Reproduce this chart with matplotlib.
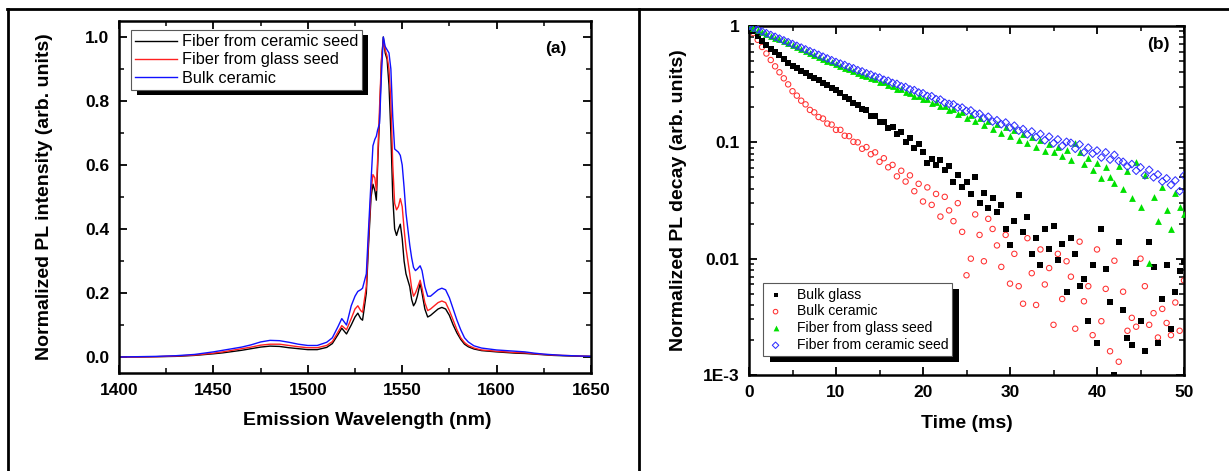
import numpy as np
import matplotlib
matplotlib.use("Agg")
import matplotlib.pyplot as plt
from matplotlib.lines import Line2D
from matplotlib.patches import Rectangle
from matplotlib.ticker import MultipleLocator, FixedLocator, FuncFormatter, LogLocator, NullFormatter

plt.rcParams['font.family'] = ['Liberation Sans', 'DejaVu Sans']

# ---------------- Panel (a) data: PL spectra ----------------
wavelength_nm = [1400, 1410, 1420, 1430, 1440, 1450, 1455, 1460, 1465, 1470,
                 1475, 1480, 1485, 1490, 1495, 1500, 1505, 1510, 1513, 1516,
                 1518, 1520.5, 1523, 1525, 1526.5, 1528, 1529, 1531, 1532, 1533.5,
                 1534.5, 1535.5, 1536.3, 1537, 1538, 1539, 1540, 1541, 1542, 1543,
                 1544, 1545, 1546, 1547, 1548, 1549, 1550, 1551, 1552, 1553,
                 1554, 1555, 1556, 1557, 1558, 1559.5, 1560.5, 1562, 1563.5, 1565,
                 1567, 1569, 1571, 1573, 1575, 1577, 1579, 1581, 1583, 1585,
                 1588, 1592, 1596, 1600, 1605, 1610, 1615, 1620, 1625, 1630,
                 1635, 1640, 1645, 1650]

fiber_ceramic_seed = [0.0, 0.0, 0.001, 0.002, 0.005, 0.010, 0.013, 0.017, 0.021, 0.026,
                      0.031, 0.034, 0.033, 0.029, 0.026, 0.023, 0.023, 0.030, 0.042, 0.070,
                      0.090, 0.072, 0.100, 0.125, 0.137, 0.120, 0.115, 0.200, 0.330, 0.500,
                      0.540, 0.520, 0.490, 0.600, 0.750, 0.920, 1.000, 0.950, 0.930, 0.850,
                      0.700, 0.500, 0.400, 0.380, 0.400, 0.415, 0.370, 0.300, 0.260, 0.240,
                      0.220, 0.180, 0.160, 0.170, 0.190, 0.230, 0.200, 0.150, 0.125, 0.130,
                      0.140, 0.150, 0.155, 0.150, 0.130, 0.100, 0.075, 0.055, 0.040, 0.032,
                      0.025, 0.020, 0.018, 0.016, 0.014, 0.012, 0.011, 0.009, 0.007, 0.005,
                      0.004, 0.003, 0.002, 0.002]

fiber_glass_seed = [0.0, 0.0, 0.001, 0.003, 0.006, 0.012, 0.016, 0.021, 0.026, 0.031,
                    0.037, 0.040, 0.040, 0.036, 0.032, 0.029, 0.029, 0.036, 0.048, 0.078,
                    0.098, 0.085, 0.120, 0.150, 0.160, 0.145, 0.140, 0.220, 0.350, 0.520,
                    0.570, 0.560, 0.520, 0.620, 0.780, 0.930, 0.990, 0.960, 0.940, 0.900,
                    0.800, 0.600, 0.480, 0.460, 0.470, 0.495, 0.470, 0.400, 0.340, 0.300,
                    0.260, 0.215, 0.190, 0.200, 0.215, 0.240, 0.215, 0.170, 0.145, 0.150,
                    0.160, 0.170, 0.175, 0.170, 0.145, 0.115, 0.085, 0.060, 0.045, 0.036,
                    0.028, 0.022, 0.020, 0.018, 0.016, 0.014, 0.013, 0.010, 0.008, 0.006,
                    0.005, 0.004, 0.003, 0.002]

bulk_ceramic_spec = [0.0, 0.001, 0.002, 0.004, 0.008, 0.016, 0.021, 0.026, 0.031, 0.038,
                     0.047, 0.052, 0.051, 0.046, 0.040, 0.036, 0.036, 0.046, 0.060, 0.095,
                     0.120, 0.100, 0.160, 0.190, 0.205, 0.210, 0.215, 0.260, 0.380, 0.550,
                     0.660, 0.680, 0.690, 0.710, 0.730, 0.880, 1.000, 0.970, 0.960, 0.950,
                     0.900, 0.750, 0.650, 0.645, 0.640, 0.630, 0.600, 0.530, 0.450, 0.400,
                     0.350, 0.310, 0.280, 0.270, 0.275, 0.285, 0.270, 0.220, 0.190, 0.190,
                     0.200, 0.210, 0.215, 0.210, 0.185, 0.150, 0.115, 0.085, 0.060, 0.047,
                     0.035, 0.028, 0.025, 0.022, 0.020, 0.018, 0.016, 0.012, 0.009, 0.007,
                     0.005, 0.004, 0.003, 0.002]

# ---------------- Panel (b) data: PL decay ----------------
time_ms = np.linspace(0, 50, 101)   # sampling grid, 0.5 ms

bulk_glass = [1.0, 0.90, 0.82, 0.75, 0.69, 0.64, 0.60, 0.56, 0.52, 0.485,
              0.455, 0.434, 0.413, 0.394, 0.375, 0.358, 0.341, 0.325, 0.310, 0.295,
              0.281, 0.268, 0.247, 0.238, 0.218, 0.211, 0.193, 0.189, 0.170, 0.168,
              0.150, 0.151, 0.132, 0.136, 0.118, 0.122, 0.101, 0.110, 0.089, 0.096,
              0.082, 0.067, 0.072, 0.064, 0.070, 0.058, 0.062, 0.046, 0.052, 0.041,
              0.046, 0.036, 0.050, 0.030, 0.037, 0.027, 0.033, 0.025, 0.029, 0.018,
              0.013, 0.021, 0.035, 0.017, 0.023, 0.011, 0.015, 0.0088, 0.018, 0.012,
              0.019, 0.0098, 0.0135, 0.0052, 0.015, 0.011, 0.0058, 0.0067, 0.0029, 0.0089,
              0.0019, 0.018, 0.0082, 0.0042, 0.0010, 0.014, 0.0036, 0.0021, 0.0018, 0.0092,
              0.0029, 0.0016, 0.014, 0.0085, 0.0019, 0.0045, 0.0088, 0.0025, 0.0052, 0.0078,
              0.0093]

bulk_ceramic = [1.0, 0.87, 0.76, 0.66, 0.58, 0.51, 0.45, 0.40, 0.355, 0.315,
                0.275, 0.252, 0.228, 0.212, 0.190, 0.181, 0.165, 0.160, 0.145, 0.142,
                0.128, 0.128, 0.114, 0.113, 0.101, 0.100, 0.088, 0.091, 0.079, 0.082,
                0.068, 0.073, 0.061, 0.064, 0.051, 0.057, 0.046, 0.052, 0.038, 0.044,
                0.031, 0.041, 0.029, 0.036, 0.023, 0.034, 0.026, 0.021, 0.030, 0.017,
                0.0072, 0.010, 0.024, 0.016, 0.0095, 0.022, 0.018, 0.013, 0.0085, 0.016,
                0.0061, 0.011, 0.0058, 0.0041, 0.015, 0.0075, 0.0040, 0.012, 0.0060, 0.0083,
                0.0027, 0.011, 0.0045, 0.0095, 0.0070, 0.0025, 0.014, 0.0043, 0.0058, 0.0022,
                0.012, 0.0029, 0.0055, 0.0016, 0.0096, 0.0013, 0.0052, 0.0024, 0.0031, 0.0026,
                0.010, 0.0058, 0.0027, 0.0034, 0.0021, 0.0037, 0.0028, 0.0022, 0.0042, 0.0024,
                0.0065]

fiber_glass_decay = [1.0, 0.963, 0.927, 0.893, 0.859, 0.827, 0.796, 0.767, 0.738, 0.711,
                     0.684, 0.659, 0.634, 0.611, 0.588, 0.566, 0.545, 0.525, 0.505, 0.486,
                     0.468, 0.455, 0.436, 0.425, 0.407, 0.398, 0.380, 0.374, 0.355, 0.350,
                     0.331, 0.327, 0.310, 0.306, 0.289, 0.287, 0.270, 0.268, 0.250, 0.252,
                     0.236, 0.235, 0.218, 0.221, 0.204, 0.207, 0.189, 0.195, 0.176, 0.183,
                     0.163, 0.172, 0.152, 0.163, 0.142, 0.154, 0.131, 0.144, 0.121, 0.135,
                     0.113, 0.127, 0.104, 0.118, 0.099, 0.112, 0.092, 0.104, 0.085, 0.097,
                     0.083, 0.091, 0.077, 0.086, 0.071, 0.099, 0.082, 0.065, 0.073, 0.058,
                     0.066, 0.049, 0.061, 0.050, 0.045, 0.063, 0.040, 0.057, 0.033, 0.068,
                     0.028, 0.052, 0.0092, 0.034, 0.021, 0.041, 0.026, 0.018, 0.037, 0.028,
                     0.024]

fiber_ceramic_decay = [1.0, 0.965, 0.931, 0.898, 0.867, 0.837, 0.807, 0.779, 0.752, 0.725,
                       0.700, 0.675, 0.652, 0.629, 0.607, 0.586, 0.565, 0.545, 0.526, 0.508,
                       0.490, 0.475, 0.462, 0.444, 0.433, 0.417, 0.407, 0.392, 0.382, 0.368,
                       0.360, 0.345, 0.338, 0.324, 0.318, 0.303, 0.299, 0.285, 0.281, 0.268,
                       0.264, 0.250, 0.249, 0.235, 0.233, 0.219, 0.214, 0.212, 0.199, 0.199,
                       0.186, 0.188, 0.175, 0.176, 0.161, 0.166, 0.151, 0.155, 0.143, 0.148,
                       0.134, 0.139, 0.126, 0.130, 0.117, 0.124, 0.111, 0.118, 0.104, 0.112,
                       0.098, 0.106, 0.093, 0.101, 0.099, 0.088, 0.096, 0.082, 0.090, 0.080,
                       0.085, 0.074, 0.082, 0.071, 0.078, 0.069, 0.068, 0.062, 0.065, 0.057,
                       0.061, 0.052, 0.058, 0.050, 0.053, 0.046, 0.049, 0.043, 0.047, 0.038,
                       0.052]

# ---------------- Figure ----------------
W, H = 1229, 471
fig = plt.figure(figsize=(W / 100, H / 100), dpi=100)

def px_axes(x0, x1, ytop, ybot):
    return fig.add_axes([x0 / W, 1 - ybot / H, (x1 - x0) / W, (ybot - ytop) / H])

axA = px_axes(119, 591, 21, 373)
axB = px_axes(749, 1184, 26, 375)

tick_fs = 12.5
label_fs = 14

def style_axes(ax):
    for s in ax.spines.values():
        s.set_linewidth(1.8)
    ax.tick_params(which='both', direction='in', top=True, right=True,
                   labelsize=tick_fs, pad=7)
    ax.tick_params(which='major', length=6, width=1.3)
    ax.tick_params(which='minor', length=3.5, width=1.1)
    for lab in ax.get_xticklabels() + ax.get_yticklabels():
        lab.set_fontweight('bold')

# ---- Panel (a)
axA.plot(wavelength_nm, fiber_ceramic_seed, color='black', lw=1.0, label='Fiber from ceramic seed')
axA.plot(wavelength_nm, fiber_glass_seed, color='#ff2020', lw=1.0, label='Fiber from glass seed')
axA.plot(wavelength_nm, bulk_ceramic_spec, color='#1010ff', lw=1.0, label='Bulk ceramic')
axA.set_xlim(1400, 1650)
axA.set_ylim(-0.05, 1.05)
axA.xaxis.set_major_locator(MultipleLocator(50))
axA.xaxis.set_minor_locator(MultipleLocator(25))
axA.yaxis.set_major_locator(MultipleLocator(0.2))
axA.yaxis.set_minor_locator(MultipleLocator(0.1))
axA.yaxis.set_major_formatter(FuncFormatter(lambda v, p: f"{v:.1f}"))
style_axes(axA)
axA.set_xlabel('Emission Wavelength (nm)', fontsize=label_fs, fontweight='bold')
axA.set_ylabel('Normalized PL intensity (arb. units)', fontsize=label_fs, fontweight='bold')
axA.xaxis.set_label_coords(0.527, -0.134)
axA.yaxis.set_label_coords(-0.157, 0.5)
axA.xaxis.label.set_va('center')
axA.yaxis.label.set_va('center')
axA.text(0.926, 0.923, '(a)', transform=axA.transAxes, fontsize=12.5,
         fontweight='bold', ha='center', va='center')
legA = axA.legend(loc='upper left', bbox_to_anchor=(0.025, 0.974), borderaxespad=0,
                  fontsize=11.7, frameon=True, fancybox=False, framealpha=1,
                  edgecolor='0.35', handlelength=2.6, handletextpad=0.3,
                  labelspacing=0.2, borderpad=0.25)
legA.get_frame().set_linewidth(0.8)

# ---- Panel (b)
axB.set_yscale('log')
axB.scatter(time_ms, bulk_glass, marker='s', s=15, color='black', linewidths=0,
            label='Bulk glass', zorder=3)
axB.scatter(time_ms, bulk_ceramic, marker='o', s=15, facecolors='none',
            edgecolors='#ff3030', linewidths=0.75, label='Bulk ceramic', zorder=2)
axB.scatter(time_ms, fiber_glass_decay, marker='^', s=24, color='#00e000', linewidths=0,
            label='Fiber from glass seed', zorder=3)
axB.scatter(time_ms, fiber_ceramic_decay, marker='D', s=15, facecolors='none',
            edgecolors='#3030ff', linewidths=0.75, label='Fiber from ceramic seed', zorder=4)
axB.set_xlim(0, 50)
axB.set_ylim(1e-3, 1)
axB.xaxis.set_major_locator(MultipleLocator(10))
axB.xaxis.set_minor_locator(MultipleLocator(5))
axB.yaxis.set_major_locator(FixedLocator([1e-3, 1e-2, 1e-1, 1]))
axB.yaxis.set_minor_locator(LogLocator(base=10, subs=np.arange(2, 10)))
axB.yaxis.set_minor_formatter(NullFormatter())
ylabels_b = {1e-3: '1E-3', 1e-2: '0.01', 1e-1: '0.1', 1.0: '1'}
axB.yaxis.set_major_formatter(FuncFormatter(
    lambda v, p: min(ylabels_b.items(), key=lambda kv: abs(np.log10(kv[0]) - np.log10(v)))[1]))
style_axes(axB)
axB.set_xlabel('Time (ms)', fontsize=label_fs, fontweight='bold')
axB.set_ylabel('Normalized PL decay (arb. units)', fontsize=label_fs, fontweight='bold')
axB.xaxis.set_label_coords(0.501, -0.14)
axB.yaxis.set_label_coords(-0.163, 0.5)
axB.xaxis.label.set_va('center')
axB.yaxis.label.set_va('center')
axB.text(0.94, 0.946, '(b)', transform=axB.transAxes, fontsize=12.5,
         fontweight='bold', ha='center', va='center')
legB = axB.legend(loc='lower left', bbox_to_anchor=(0.032, 0.054), borderaxespad=0,
                  fontsize=10.1, frameon=True, fancybox=False, framealpha=1,
                  edgecolor='0.35', handlelength=1.2, handletextpad=0.9,
                  labelspacing=0.2, borderpad=0.3, scatterpoints=1, markerscale=0.85)
legB.get_frame().set_linewidth(0.8)

# ---- Solid black shadows behind legends
fig.canvas.draw()
for ax, leg, dx, dy in [(axA, legA, 6, 5), (axB, legB, 7, 6)]:
    bb = leg.get_window_extent()
    inv = ax.transAxes.inverted()
    (x0, y0) = inv.transform((bb.x0 + dx, bb.y0 - dy))
    (x1, y1) = inv.transform((bb.x1 + dx, bb.y1 - dy))
    ax.add_patch(Rectangle((x0, y0), x1 - x0, y1 - y0, transform=ax.transAxes,
                           facecolor='black', edgecolor='none', zorder=4.9, clip_on=False))

# ---- Table frame lines
def fig_line(x0, y0, x1, y1, lw=2.0):
    fig.add_artist(Line2D([x0 / W, x1 / W], [1 - y0 / H, 1 - y1 / H],
                          transform=fig.transFigure, color='black', lw=lw))

fig_line(7, 9, W, 9)
fig_line(7.5, 9, 7.5, H)
fig_line(639, 9, 639, H)

fig.savefig('out.png', dpi=100)
